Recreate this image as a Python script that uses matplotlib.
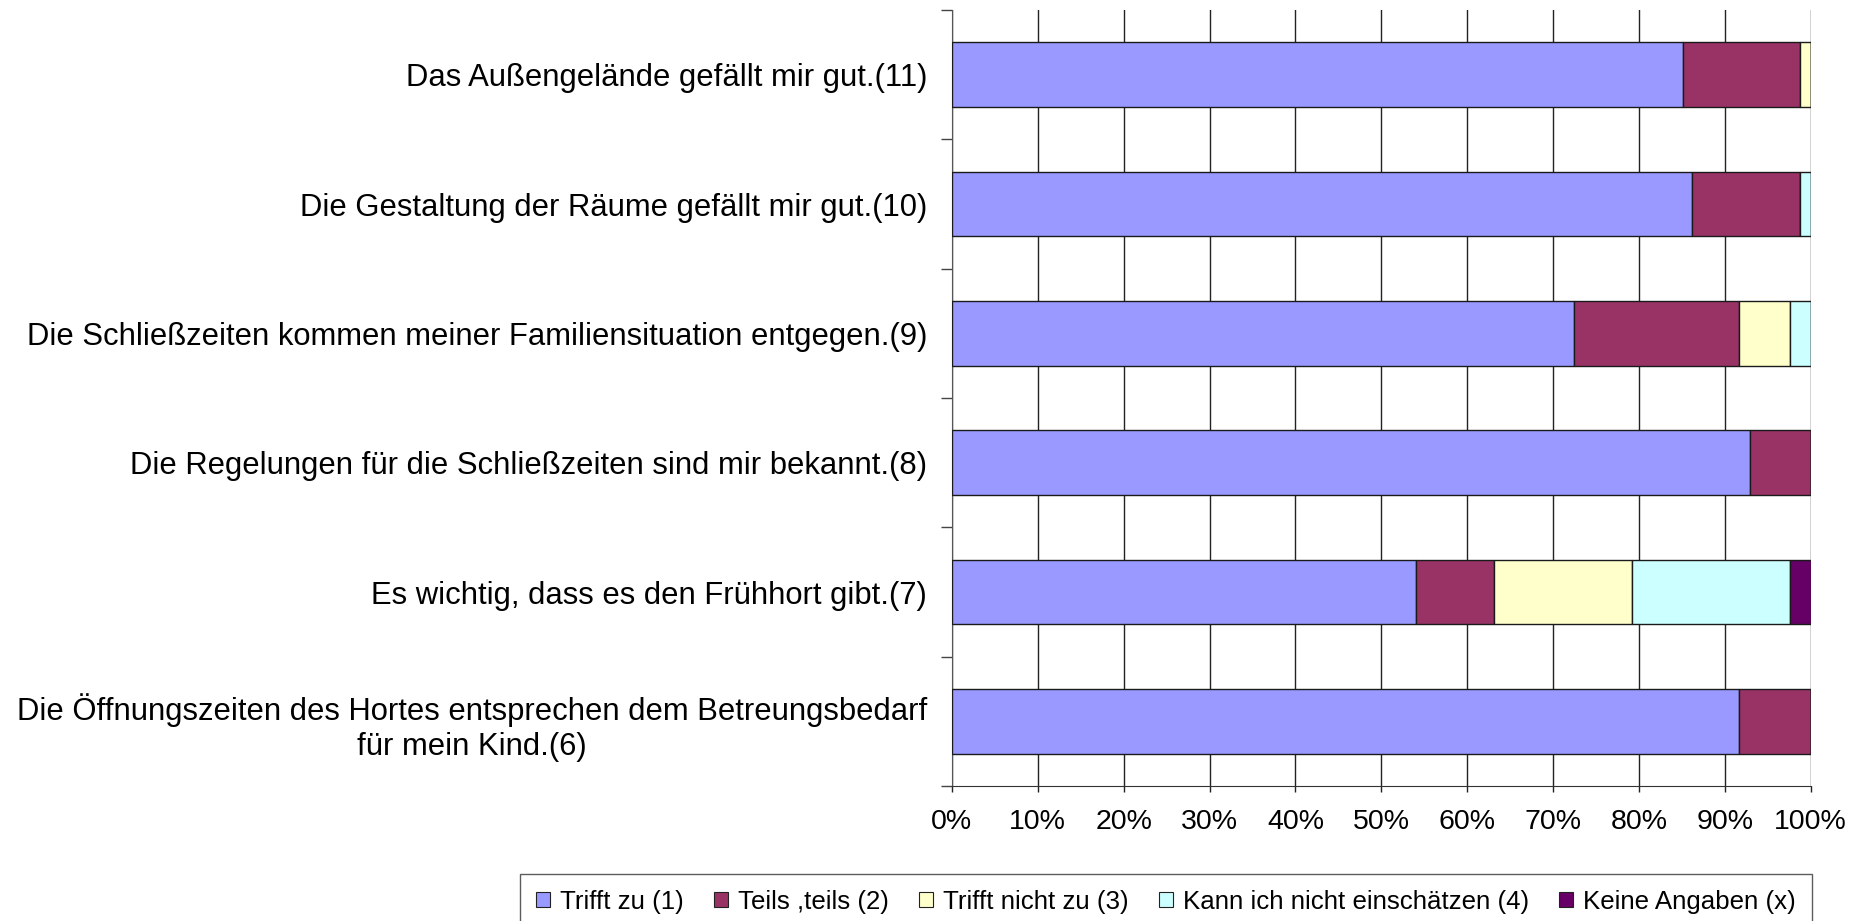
"""Stacked horizontal bar chart of the Hort survey answers (questions 6-11).
"""
import matplotlib
matplotlib.use('Agg')
import matplotlib.pyplot as plt
from matplotlib.patches import Patch
from matplotlib.ticker import FixedLocator, PercentFormatter
import numpy as np

# questions, top to bottom as in the reference
questions = [
    'Das Außengelände gefällt mir gut.(11)',
    'Die Gestaltung der Räume gefällt mir gut.(10)',
    'Die Schließzeiten kommen meiner Familiensituation entgegen.(9)',
    'Die Regelungen für die Schließzeiten sind mir bekannt.(8)',
    'Es wichtig, dass es den Frühhort gibt.(7)',
    'Die Öffnungszeiten des Hortes entsprechen dem Betreungsbedarf\nfür mein Kind.(6)',
]

answers = ['Trifft zu (1)', 'Teils ,teils (2)', 'Trifft nicht zu (3)',
           'Kann ich nicht einschätzen (4)', 'Keine Angaben (x)']

# shares in percent, one list per answer, same order as questions
trifft_zu = [85.1, 86.2, 72.4, 92.9, 54.0, 91.7]
teils_teils = [13.7, 12.6, 19.3, 7.1, 9.1, 8.3]
trifft_nicht_zu = [1.2, 0.0, 5.9, 0.0, 16.1, 0.0]
kann_nicht = [0.0, 1.2, 2.4, 0.0, 18.4, 0.0]
keine_angaben = [0.0, 0.0, 0.0, 0.0, 2.4, 0.0]

colors = ['#9999FF', '#993366', '#FFFFCC', '#CCFFFF', '#660066']

plt.rcParams['font.family'] = ['Liberation Sans', 'DejaVu Sans']

fig = plt.figure(figsize=(18.68, 9.21), dpi=100)
ax = fig.add_axes([0.5096, 0.1466, 0.4597, 0.8424])

series = [trifft_zu, teils_teils, trifft_nicht_zu, kann_nicht, keine_angaben]
y = np.arange(len(questions))
left = np.zeros(len(questions))
for vals, col in zip(series, colors):
    vals = np.array(vals)
    ax.barh(y, vals, left=left, height=0.5, color=col,
            edgecolor='#1a1a1a', linewidth=1.0, zorder=3)
    left += vals

ax.set_xlim(0, 100)
ax.set_ylim(len(questions) - 0.5, -0.5)

# x axis
ax.xaxis.set_major_locator(FixedLocator(np.arange(0, 101, 10)))
ax.xaxis.set_major_formatter(PercentFormatter(decimals=0))
ax.tick_params(axis='x', direction='out', length=4.5, width=1,
               labelsize=20.5, pad=12, color='#222222')
ax.grid(axis='x', color='#222222', linewidth=1.0, zorder=0)

# y axis: labels at the centres, tick marks between the categories
ax.set_yticks(y)
ax.set_yticklabels(questions, multialignment='center', linespacing=1.25)
ax.yaxis.set_minor_locator(FixedLocator(np.arange(-0.5, len(questions), 1)))
ax.tick_params(axis='y', which='major', length=0, labelsize=22.3, pad=18)
ax.tick_params(axis='y', which='minor', direction='out', length=8, width=1,
               color='#444444')

for side in ['top', 'right']:
    ax.spines[side].set_visible(False)
ax.spines['left'].set_color('#555555')
ax.spines['bottom'].set_color('#333333')

handles = [Patch(facecolor=c, edgecolor='#222222', linewidth=0.8) for c in colors]
leg = fig.legend(handles, answers, loc='upper left', ncol=5,
                 bbox_to_anchor=(520 / 1868, 1 - 874 / 921),
                 frameon=True, fancybox=False, fontsize=18.6,
                 handlelength=0.55, handleheight=0.55, handletextpad=0.4,
                 columnspacing=1.15, borderpad=0.6, borderaxespad=0)
leg.get_frame().set_edgecolor('#333333')
leg.get_frame().set_linewidth(1.0)

fig.savefig('out.png', dpi=100)
